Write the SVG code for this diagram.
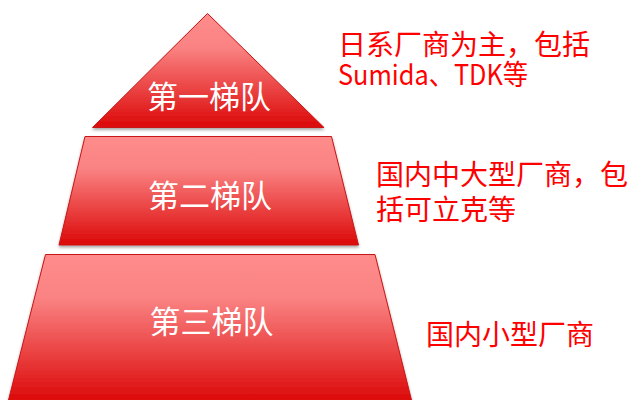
<svg xmlns="http://www.w3.org/2000/svg" width="632" height="400" viewBox="0 0 632 400">
<defs>
<linearGradient id="g" x1="0" y1="0" x2="0" y2="1">
<stop offset="0" stop-color="#ff8c8c"/>
<stop offset="0.3" stop-color="#fa8282"/>
<stop offset="1" stop-color="#dc0808"/>
</linearGradient>
<filter id="sh" x="-10%" y="-10%" width="120%" height="130%">
<feDropShadow dx="0" dy="2" stdDeviation="1.5" flood-color="#000" flood-opacity="0.35"/>
</filter>
</defs>
<style>
.tier{fill:url(#g);stroke:#c81414;stroke-width:1;filter:url(#sh)}
.lbl{font-family:"Noto Sans CJK SC",sans-serif;font-size:31px;fill:#fff;text-anchor:middle}
.note{font-family:"Noto Sans CJK SC",sans-serif;font-size:28px;fill:#ff0000}
</style>
<g id="tier1">
<polygon class="tier" points="207.5,13.5 324,127.5 92.5,127.5"/>
<text class="lbl" x="209" y="108">第一梯队</text>
</g>
<g id="tier2">
<polygon class="tier" points="85,136.5 331.5,136.5 358.5,245 59,245"/>
<text class="lbl" x="210" y="207">第二梯队</text>
</g>
<g id="tier3">
<polygon class="tier" points="45.5,254.5 375,254.5 412,402 8,402"/>
<text class="lbl" x="211.5" y="333">第三梯队</text>
</g>
<g id="note1">
<text class="note" x="338" y="55">日系厂商为主，包括</text>
<text class="note" x="338" y="85" textLength="190" lengthAdjust="spacingAndGlyphs">Sumida、TDK等</text>
</g>
<g id="note2">
<text class="note" x="376" y="184.5">国内中大型厂商，包</text>
<text class="note" x="376" y="219.5">括可立克等</text>
</g>
<g id="note3">
<text class="note" x="426" y="344.5">国内小型厂商</text>
</g>
<g id="connectors"></g>
</svg>
